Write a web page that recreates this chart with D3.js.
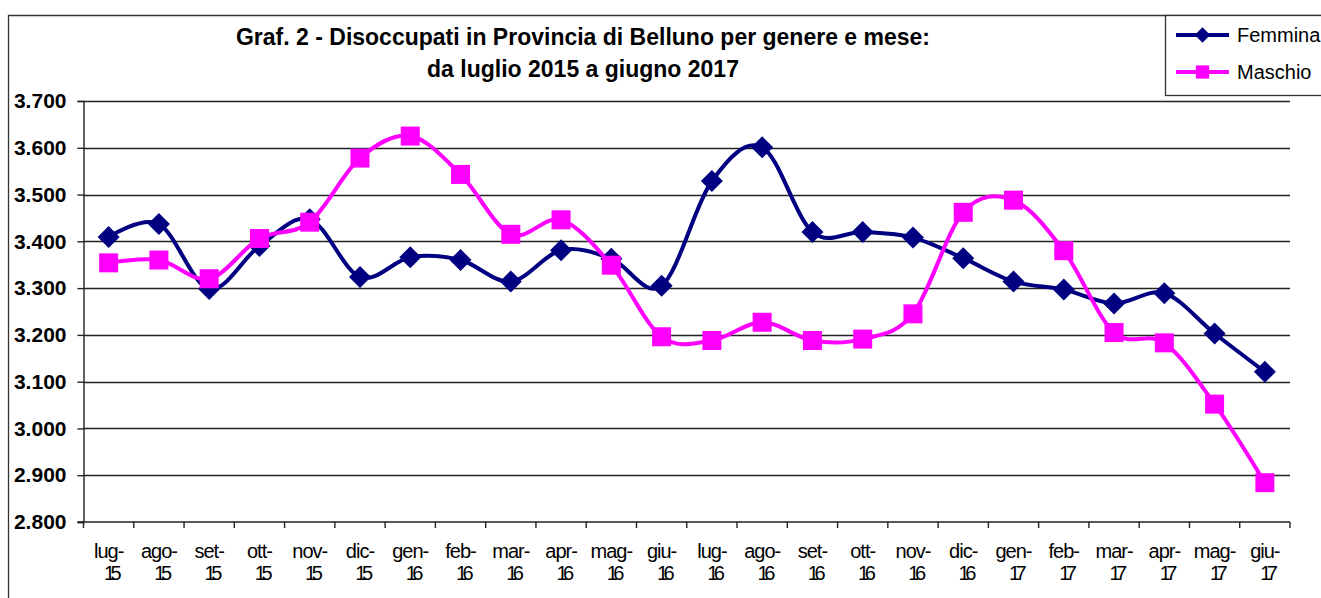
<!DOCTYPE html>
<html>
<head>
<meta charset="utf-8">
<script src="https://d3js.org/d3.v7.min.js"></script>
<style>
    body { margin: 0; padding: 0; background: #fff; }
    svg { display: block; font-family: Arial, "Liberation Sans", sans-serif; }
</style>
</head>
<body>
<div id="chart"></div>
<script>
// Categories (month-year)
const categories = ['lug-15', 'ago-15', 'set-15', 'ott-15', 'nov-15', 'dic-15', 'gen-16', 'feb-16',
    'mar-16', 'apr-16', 'mag-16', 'giu-16', 'lug-16', 'ago-16', 'set-16', 'ott-16', 'nov-16', 'dic-16',
    'gen-17', 'feb-17', 'mar-17', 'apr-17', 'mag-17', 'giu-17'];

// Series values
const femmina = [3409, 3437, 3298, 3390, 3447, 3324, 3366, 3360, 3314, 3381, 3363, 3305,
    3529, 3601, 3420, 3420, 3408, 3364, 3314, 3297, 3267, 3289, 3203, 3121];
const maschio = [3354, 3360, 3320, 3406, 3441, 3578, 3625, 3543, 3415, 3446, 3349, 3196,
    3188, 3227, 3188, 3191, 3245, 3462, 3488, 3380, 3205, 3183, 3052, 2884];

// Y axis ticks
const yTicks = [2800, 2900, 3000, 3100, 3200, 3300, 3400, 3500, 3600, 3700];

const titleLines = ['Graf. 2 - Disoccupati in Provincia di Belluno per genere e mese:',
    'da luglio 2015 a giugno 2017'];

const width = 1321, height = 598;
const plot = { left: 83.5, right: 1290, top: 101, bottom: 522 };

const svg = d3.select('#chart').append('svg')
    .attr('width', width)
    .attr('height', height);

// outer frame (clipped on right/bottom like the original)
svg.append('path')
    .attr('d', `M8.5,${height + 2} V15.5 H${width + 2}`)
    .attr('fill', 'none')
    .attr('stroke', '#333')
    .attr('stroke-width', 1.3);

// title
svg.selectAll('.title')
    .data(titleLines)
    .enter()
    .append('text')
    .attr('x', 583)
    .attr('y', (d, i) => 44.5 + i * 32)
    .attr('text-anchor', 'middle')
    .attr('font-size', 23)
    .attr('font-weight', 'bold')
    .attr('fill', '#000')
    .text(d => d);

const x = d3.scaleBand()
    .domain(categories)
    .range([plot.left, plot.right])
    .padding(0);

const y = d3.scaleLinear()
    .domain([2800, 3700])
    .range([plot.bottom, plot.top]);

// gridlines
svg.append('g')
    .selectAll('line')
    .data(yTicks.slice(1))
    .enter()
    .append('line')
    .attr('x1', plot.left)
    .attr('x2', plot.right)
    .attr('y1', d => Math.round(y(d)) + 0.5)
    .attr('y2', d => Math.round(y(d)) + 0.5)
    .attr('stroke', '#222')
    .attr('stroke-width', 1.4);

// y axis
const yAxis = svg.append('g')
    .attr('transform', `translate(${plot.left},0)`)
    .call(d3.axisLeft(y)
        .tickValues(yTicks)
        .tickSize(6)
        .tickPadding(11)
        .tickFormat(d => d3.format(',')(d).replace(',', '.')));
yAxis.select('.domain').attr('stroke', '#222').attr('stroke-width', 1.4);
yAxis.selectAll('.tick line').attr('stroke', '#222').attr('stroke-width', 1.4);
yAxis.selectAll('.tick text')
    .attr('font-size', 21)
    .attr('font-weight', 'bold')
    .attr('font-family', 'Arial, "Liberation Sans", sans-serif')
    .attr('fill', '#000');

// x axis
const xAxis = svg.append('g')
    .attr('transform', `translate(0,${plot.bottom})`);
xAxis.append('line')
    .attr('x1', plot.left - 6)
    .attr('x2', plot.right)
    .attr('stroke', '#222')
    .attr('stroke-width', 1.4);
xAxis.selectAll('.xtick')
    .data(categories.concat(['end']))
    .enter()
    .append('line')
    .attr('x1', (d, i) => i < categories.length ? x(d) : plot.right)
    .attr('x2', (d, i) => i < categories.length ? x(d) : plot.right)
    .attr('y1', 0)
    .attr('y2', 6)
    .attr('stroke', '#222')
    .attr('stroke-width', 1.4);

const xLabels = xAxis.selectAll('.xlabel')
    .data(categories)
    .enter()
    .append('text')
    .attr('text-anchor', 'middle')
    .attr('font-size', 20)
    .attr('fill', '#000');
xLabels.append('tspan')
    .attr('x', d => x(d) + x.bandwidth() / 2)
    .attr('y', 36)
    .attr('letter-spacing', -1)
    .text(d => d.split('-')[0] + '-');
xLabels.append('tspan')
    .attr('x', d => x(d) + x.bandwidth() / 2 + 2)
    .attr('y', 58)
    .attr('letter-spacing', -4.5)
    .text(d => d.split('-')[1]);

// series
const cx = d => x(d) + x.bandwidth() / 2;
const line = d3.line()
    .x((d, i) => cx(categories[i]))
    .y(d => y(d))
    .curve(d3.curveCatmullRom.alpha(0));

const series = [
    { name: 'Femmina', values: femmina, color: '#000080', marker: 'diamond' },
    { name: 'Maschio', values: maschio, color: '#FF00FF', marker: 'square' }
];

function drawMarker(g, type, color) {
    if (type === 'diamond') {
        g.append('path')
            .attr('d', 'M0,-11 L11,0 L0,11 L-11,0 Z')
            .attr('fill', color);
    } else {
        g.append('rect')
            .attr('x', -9.5).attr('y', -9.5)
            .attr('width', 19).attr('height', 19)
            .attr('fill', color);
    }
}

series.forEach(s => {
    svg.append('path')
        .datum(s.values)
        .attr('fill', 'none')
        .attr('stroke', s.color)
        .attr('stroke-width', 4)
        .attr('d', line);

    svg.selectAll('.m-' + s.name)
        .data(s.values)
        .enter()
        .append('g')
        .attr('transform', (d, i) => `translate(${cx(categories[i])},${y(d)})`)
        .each(function () { drawMarker(d3.select(this), s.marker, s.color); });
});

// legend
const legend = svg.append('g');
legend.append('rect')
    .attr('x', 1165.5)
    .attr('y', 15.5)
    .attr('width', 200)
    .attr('height', 80)
    .attr('fill', '#fff')
    .attr('stroke', '#333')
    .attr('stroke-width', 1.3);

series.forEach((s, i) => {
    const ly = 35 + i * 37;
    legend.append('line')
        .attr('x1', 1176).attr('x2', 1229)
        .attr('y1', ly).attr('y2', ly)
        .attr('stroke', s.color)
        .attr('stroke-width', 4);
    const mg = legend.append('g')
        .attr('transform', `translate(1202.5,${ly}) scale(0.7)`);
    drawMarker(mg, s.marker, s.color);
    legend.append('text')
        .attr('x', 1237)
        .attr('y', ly + 7)
        .attr('font-size', 20)
        .attr('fill', '#000')
        .text(s.name);
});
</script>
</body>
</html>
